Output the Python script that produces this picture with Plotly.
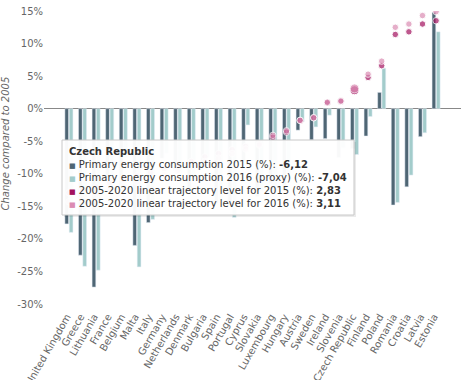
import plotly.graph_objects as go

countries = ["United Kingdom", "Greece", "Lithuania", "France", "Belgium", "Malta", "Italy",
             "Germany", "Netherlands", "Denmark", "Bulgaria", "Spain", "Portugal", "Cyprus",
             "Slovakia", "Luxembourg", "Hungary", "Austria", "Sweden", "Ireland", "Slovenia",
             "Czech Republic", "Finland", "Poland", "Romania", "Croatia", "Latvia", "Estonia"]

pec2015 = [-17.7, -22.5, -27.4, -10.5, -12.0, -21.0, -17.5, -7.6, -9.5, -12.5, -9.0, -14.5,
           -14.8, -8.0, -13.5, -11.5, -12.5, -3.3, -4.8, -4.6, -7.5, -6.12, -4.2, 2.5,
           -14.8, -12.0, -4.3, 14.8]
pec2016 = [-19.0, -24.2, -24.8, -11.5, -7.5, -24.3, -17.0, -6.8, -9.8, -10.8, -7.5, -14.0,
           -16.7, -2.5, -12.5, -12.8, -10.5, -2.0, -2.8, -1.0, -6.0, -7.04, -1.2, 6.2,
           -14.4, -10.2, -3.7, 11.8]
traj2015 = [-12.9, -12.5, -12.0, -11.4, -10.9, -10.3, -9.8, -9.2, -8.6, -8.1, -7.4, -6.9,
            -6.3, -5.8, -5.4, -4.4, -3.6, -1.8, -1.4, 0.9, 1.1, 2.83, 4.8, 6.6,
            11.4, 11.8, 13.0, 13.5]
traj2016 = [-14.3, -13.8, -13.2, -12.5, -12.0, -11.3, -10.8, -10.1, -9.5, -8.9, -8.1, -7.6,
            -6.9, -6.2, -5.6, -4.1, -3.4, -1.8, -1.4, 1.0, 1.2, 3.11, 5.3, 7.3,
            12.5, 13.0, 14.3, 14.9]

ytick_vals = [15, 10, 5, 0, -5, -10, -15, -20, -25, -30]
ytick_text = ["15%", "10%", "5%", "0%", "-5%", "-10%", "-15%", "-20%", "-25%", "-30%"]

series_names = ["Primary energy consumption 2015 (%)",
                "Primary energy consumption 2016 (proxy) (%)",
                "2005-2020 linear trajectory level for 2015 (%)",
                "2005-2020 linear trajectory level for 2016 (%)"]

DARK = "#4f6674"
LIGHT = "#a3cccb"
MAG = "#a3125f"
PINK = "#db8cb3"

hl = countries.index("Czech Republic")
sizes = [6.5 if i != hl else 9 for i in range(len(countries))]

fig = go.Figure()
fig.add_trace(go.Bar(x=countries, y=pec2015, marker_color=DARK, name=series_names[0]))
fig.add_trace(go.Bar(x=countries, y=pec2016, marker_color=LIGHT, name=series_names[1]))
fig.add_trace(go.Scatter(x=countries, y=traj2015, mode="markers",
                         marker=dict(color=MAG, size=sizes), name=series_names[2]))
fig.add_trace(go.Scatter(x=countries, y=traj2016, mode="markers",
                         marker=dict(color=PINK, size=sizes), name=series_names[3]))

W, H = 467, 380
L, R, T, B = 44, 6, 11, 76
pw, ph = W - L - R, H - T - B

def px(xp):
    return (xp - L) / pw

def py(yp):
    return (H - B - yp) / ph

# tooltip box
bx0, bx1, by0, by1 = 62, 354, 140, 215
fig.add_shape(type="rect", xref="paper", yref="paper",
              x0=px(bx0 + 2), x1=px(bx1 + 2), y0=py(by1 + 2), y1=py(by0 + 2),
              line=dict(width=0), fillcolor="rgba(0,0,0,0.08)", layer="above")
fig.add_shape(type="rect", xref="paper", yref="paper",
              x0=px(bx0), x1=px(bx1), y0=py(by1), y1=py(by0),
              line=dict(width=1, color="#c8c8c8"), fillcolor="rgba(255,255,255,0.96)", layer="above")

vals_hl = [pec2015[hl], pec2016[hl], traj2015[hl], traj2016[hl]]
cols = [DARK, LIGHT, MAG, PINK]
lines = ["<b>" + countries[hl] + "</b>"]
for n, v, c in zip(series_names, vals_hl, cols):
    lines.append('<span style="color:%s;font-size:7px">■</span> %s: <b>%s</b>'
                 % (c, n, ("%.2f" % v).replace(".", ",")))
fig.add_annotation(xref="paper", yref="paper", x=px(67), y=py(144),
                   xanchor="left", yanchor="top", align="left", showarrow=False,
                   text="<br>".join(lines),
                   font=dict(family="DejaVu Sans", size=10, color="#333333"))

fig.add_annotation(xref="paper", yref="paper", x=px(4.5), y=py(144),
                   xanchor="center", yanchor="middle", showarrow=False, textangle=-90,
                   text="<i>Change compared to 2005</i>",
                   font=dict(family="DejaVu Sans", size=10, color="#666666"))

fig.update_layout(
    width=W, height=H, margin=dict(l=L, r=R, t=T, b=B, autoexpand=False),
    paper_bgcolor="white", plot_bgcolor="white",
    barmode="group", bargap=0.36, bargroupgap=0.15,
    showlegend=False,
    font=dict(family="DejaVu Sans", size=10, color="#666666"),
    xaxis=dict(tickangle=-60, showgrid=False, showline=False, ticks="", automargin=False,
               ticklabelstandoff=4, ticklabelshift=-2,
               tickfont=dict(size=10, color="#666666")),
    yaxis=dict(range=[-30, 15], tickvals=ytick_vals, ticktext=ytick_text, automargin=False,
               showgrid=False, zeroline=True, zerolinecolor="#888888", zerolinewidth=1,
               ticks="", tickfont=dict(size=10, color="#666666")),
)

fig.write_html("out.html")
